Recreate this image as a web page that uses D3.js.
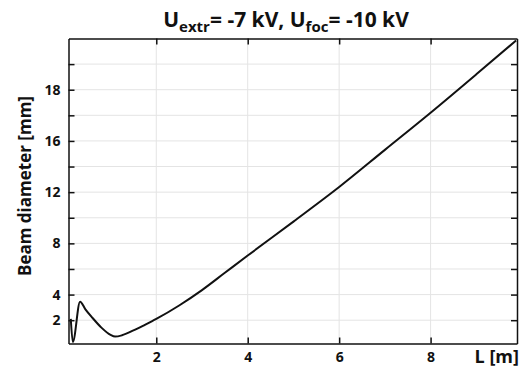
<!DOCTYPE html>
<html>
<head>
<meta charset="utf-8">
<script src="https://cdn.jsdelivr.net/npm/d3@7"></script>
<style>
  html, body { margin: 0; padding: 0; background: #fff; }
  svg { display: block; }
  text { font-family: "Open Sans", "DejaVu Sans", sans-serif; fill: #111; }
</style>
</head>
<body>
<svg id="chart" width="523" height="370"></svg>
<script>
// ---- data ----
const lengthM = [0.13, 0.175, 0.333, 0.45, 0.6, 0.8, 1.0, 1.1, 1.25, 1.5, 1.75, 2.0, 2.5, 3.0, 3.5, 4.0, 5.0, 6.0, 7.0, 8.0, 9.0, 9.87];
const diameterMm = [2.1, 0.3, 3.45, 2.85, 2.2, 1.42, 0.85, 0.72, 0.82, 1.2, 1.64, 2.1, 3.15, 4.35, 5.7, 7.05, 9.7, 12.4, 15.3, 18.2, 21.2, 23.85];
const xTickValues = [2, 4, 6, 8];
const xTickLabels = ["2", "4", "6", "8"];
const yTickValues = [2, 4, 6, 8, 10, 12, 14, 16, 18, 20, 22];
const yTickLabels = ["2", "4", "", "8", "", "12", "", "16", "", "18", ""];
const xDomain = [0.08, 9.89];
const yDomain = [0.18, 24];

// ---- layout ----
const svg = d3.select("#chart");
const pL = 68.5, pR = 517, pT = 38.5, pB = 343.5;

const x = d3.scaleLinear().domain(xDomain).range([pL, pR]);
const y = d3.scaleLinear().domain(yDomain).range([pB, pT]);

// grid
const grid = svg.append("g").attr("stroke", "#e4e4e4").attr("stroke-width", 1);
grid.selectAll("line.v").data(xTickValues).join("line")
  .attr("x1", d => x(d)).attr("x2", d => x(d))
  .attr("y1", pT).attr("y2", pB);
grid.selectAll("line.h").data(yTickValues).join("line")
  .attr("y1", d => y(d)).attr("y2", d => y(d))
  .attr("x1", pL).attr("x2", pR);

// axes
const tickLen = 6;
const fmtX = d => xTickLabels[xTickValues.indexOf(d)];
const fmtY = d => yTickLabels[yTickValues.indexOf(d)];

function styleAxis(g) {
  g.select(".domain").attr("stroke", "#111").attr("stroke-width", 1.5);
  g.selectAll(".tick line").attr("stroke", "#111").attr("stroke-width", 1.5);
  g.selectAll(".tick text")
    .attr("font-family", "\"Open Sans\", sans-serif")
    .attr("font-weight", 700)
    .attr("font-size", 14)
    .attr("fill", "#111");
}

svg.append("g").attr("transform", `translate(0,${pB})`)
  .call(d3.axisBottom(x).tickValues(xTickValues).tickFormat(fmtX)
    .tickSizeInner(-tickLen).tickSizeOuter(0).tickPadding(tickLen + 3))
  .call(styleAxis);
svg.append("g").attr("transform", `translate(0,${pT})`)
  .call(d3.axisTop(x).tickValues(xTickValues).tickFormat("")
    .tickSizeInner(-tickLen).tickSizeOuter(0))
  .call(styleAxis);
svg.append("g").attr("transform", `translate(${pL},0)`)
  .call(d3.axisLeft(y).tickValues(yTickValues).tickFormat(fmtY)
    .tickSizeInner(-tickLen).tickSizeOuter(0).tickPadding(tickLen + 2))
  .call(styleAxis);
svg.append("g").attr("transform", `translate(${pR},0)`)
  .call(d3.axisRight(y).tickValues(yTickValues).tickFormat("")
    .tickSizeInner(-tickLen).tickSizeOuter(0))
  .call(styleAxis);

// curve
const pts = lengthM.map((L, i) => [L, diameterMm[i]]);
svg.append("path")
  .datum(pts)
  .attr("fill", "none")
  .attr("stroke", "#111")
  .attr("stroke-width", 2)
  .attr("stroke-linejoin", "round")
  .attr("d", d3.line().x(d => x(d[0])).y(d => y(d[1])).curve(d3.curveMonotoneX));

// title
const title = svg.append("text")
  .attr("x", 286).attr("y", 27)
  .attr("text-anchor", "middle")
  .attr("font-size", 21).attr("font-weight", 700);
title.append("tspan").text("U");
title.append("tspan").attr("font-size", 15).attr("dy", 5).text("extr");
title.append("tspan").attr("dy", -5).text("= -7 kV, U");
title.append("tspan").attr("font-size", 15).attr("dy", 5).text("foc");
title.append("tspan").attr("dy", -5).text("= -10 kV");

// axis labels
svg.append("text")
  .attr("transform", `translate(31,${(91 + 281) / 2}) rotate(-90)`)
  .attr("text-anchor", "middle")
  .attr("font-size", 17).attr("font-weight", 700)
  .text("Beam diameter [mm]");

svg.append("text")
  .attr("x", 519).attr("y", 363)
  .attr("text-anchor", "end")
  .attr("font-size", 18).attr("font-weight", 700)
  .text("L [m]");
</script>
</body>
</html>
